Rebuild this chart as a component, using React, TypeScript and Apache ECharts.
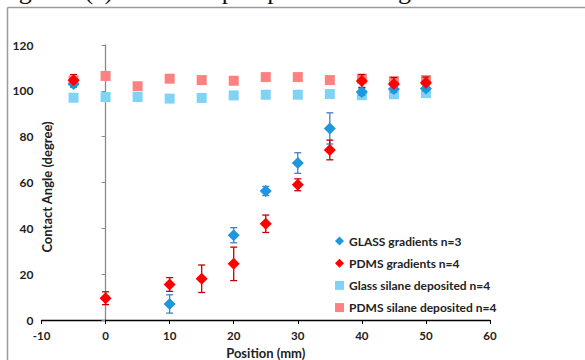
import React, { useEffect, useRef } from "react";
import * as echarts from "echarts";

const glassGradX = [-5, 10, 20, 25, 30, 35, 40, 45, 50];
const glassGradY = [103, 7, 37, 56.3, 68.5, 83.6, 99.5, 100.8, 101];
const glassGradErr = [1.5, 4, 3.3, 2, 4.5, 6.8, 1.5, 1.5, 1.2];

const pdmsGradX = [-5, 0, 10, 15, 20, 25, 30, 35, 40, 45, 50];
const pdmsGradY = [104.6, 9.5, 15.5, 18, 24.5, 42, 59, 74.2, 104.3, 103, 103.5];
const pdmsGradErr = [2.5, 2.8, 3, 6, 7.3, 3.8, 2.6, 4.3, 2.8, 2.8, 2.5];

const silaneX = [-5, 0, 5, 10, 15, 20, 25, 30, 35, 40, 45, 50];
const glassSilaneY = [97, 97.3, 97.3, 96.6, 96.9, 98, 98.3, 98.3, 98.6, 98.1, 98.5, 99];
const pdmsSilaneY = [104.5, 106.5, 102, 105.3, 104.7, 104.4, 106, 106, 104.7, 105.3, 104.2, 104.7];

const seriesNames = [
  "GLASS gradients n=3",
  "PDMS gradients n=4",
  "Glass silane deposited n=4",
  "PDMS silane deposited n=4",
];

const xTicks = { min: -10, max: 60, interval: 10 };
const yTicks = { min: 0, max: 120, interval: 20 };

const FONT = "Lato";

function errorSeries(xs: number[], ys: number[], errs: number[], color: string) {
  return {
    type: "custom",
    z: 3,
    data: xs.map((x, i) => [x, ys[i] - errs[i], ys[i] + errs[i]]),
    renderItem: (params: any, api: any) => {
      const x = api.value(0);
      const lo = api.coord([x, api.value(1)]);
      const hi = api.coord([x, api.value(2)]);
      const cap = 3.5;
      const style = { stroke: color, lineWidth: 1.3 };
      return {
        type: "group",
        children: [
          { type: "line", shape: { x1: lo[0], y1: lo[1], x2: hi[0], y2: hi[1] }, style },
          { type: "line", shape: { x1: lo[0] - cap, y1: lo[1], x2: lo[0] + cap, y2: lo[1] }, style },
          { type: "line", shape: { x1: hi[0] - cap, y1: hi[1], x2: hi[0] + cap, y2: hi[1] }, style },
        ],
      };
    },
    silent: true,
  };
}

export default function App() {
  const ref = useRef<HTMLDivElement>(null);
  useEffect(() => {
    if (!ref.current) return;
    const chart = echarts.init(ref.current, null, { renderer: "svg" });
    chart.setOption({
      animation: false,
      backgroundColor: "#ffffff",
      grid: { left: 41.5, right: 95, top: 45, bottom: 40, containLabel: false, outerBoundsMode: "none" },
      graphic: [
        {
          type: "text",
          left: -3,
          top: -23,
          style: {
            text: "Figure 1(a) Water droplet profiles along PDMS substrate",
            font: "26px 'Liberation Serif', serif",
            fill: "#111",
          },
        },
        { type: "line", shape: { x1: 7.5, y1: 7.5, x2: 585, y2: 7.5 }, style: { stroke: "#9a9a9a", lineWidth: 1.5 } },
        { type: "line", shape: { x1: 7.5, y1: 7.5, x2: 7.5, y2: 360 }, style: { stroke: "#9a9a9a", lineWidth: 1.5 } },
        {
          type: "text",
          x: 47,
          y: 187,
          rotation: Math.PI / 2,
          style: {
            text: "Contact Angle (degree)",
            font: `bold 13px ${FONT}`,
            fill: "#222",
            align: "center",
            verticalAlign: "middle",
          },
        },
      ],
      legend: {
        data: seriesNames,
        orient: "vertical",
        left: 330,
        top: 230,
        itemWidth: 9,
        itemHeight: 9,
        itemGap: 10.2,
        textStyle: { fontFamily: FONT, fontWeight: "bold", fontSize: 12, color: "#222" },
      },
      xAxis: {
        type: "value",
        min: xTicks.min,
        max: xTicks.max,
        interval: xTicks.interval,
        name: "Position (mm)",
        nameLocation: "middle",
        nameGap: 26,
        nameTextStyle: { fontFamily: FONT, fontWeight: "bold", fontSize: 13, color: "#222" },
        axisLine: { onZero: false, lineStyle: { color: "#000", width: 1.3 } },
        axisTick: { show: true, length: 4, lineStyle: { color: "#000" } },
        axisLabel: { fontFamily: FONT, fontWeight: "bold", fontSize: 11.5, color: "#222", margin: 9 },
        splitLine: { show: false },
      },
      yAxis: {
        type: "value",
        min: yTicks.min,
        max: yTicks.max,
        interval: yTicks.interval,
        axisLine: { show: true, onZero: true, lineStyle: { color: "#8a8a8a", width: 1.3 } },
        axisTick: { show: true, length: 4, lineStyle: { color: "#8a8a8a" } },
        axisLabel: { fontFamily: FONT, fontWeight: "bold", fontSize: 12, color: "#222", margin: 8 },
        splitLine: { show: false },
      },
      series: [
        {
          name: seriesNames[2],
          type: "scatter",
          symbol: "rect",
          symbolSize: 10,
          itemStyle: { color: "#7fd4f6", opacity: 1 },
          data: silaneX.map((x, i) => [x, glassSilaneY[i]]),
          z: 2,
        },
        {
          name: seriesNames[3],
          type: "scatter",
          symbol: "rect",
          symbolSize: 10,
          itemStyle: { color: "#ff8080", opacity: 1 },
          data: silaneX.map((x, i) => [x, pdmsSilaneY[i]]),
          z: 2,
        },
        errorSeries(glassGradX, glassGradY, glassGradErr, "#4a7fc1"),
        {
          name: seriesNames[0],
          type: "scatter",
          symbol: "diamond",
          symbolSize: 12,
          itemStyle: { color: "#1f97dc", opacity: 1 },
          data: glassGradX.map((x, i) => [x, glassGradY[i]]),
          z: 4,
        },
        errorSeries(pdmsGradX, pdmsGradY, pdmsGradErr, "#c00000"),
        {
          name: seriesNames[1],
          type: "scatter",
          symbol: "diamond",
          symbolSize: 12,
          itemStyle: { color: "#ff0000", opacity: 1 },
          data: pdmsGradX.map((x, i) => [x, pdmsGradY[i]]),
          z: 5,
        },
      ],
    });
    return () => chart.dispose();
  }, []);
  return (
    <div
      ref={ref}
      style={{ position: "absolute", left: 0, top: 0, width: 585, height: 360, background: "#fff" }}
    />
  );
}
